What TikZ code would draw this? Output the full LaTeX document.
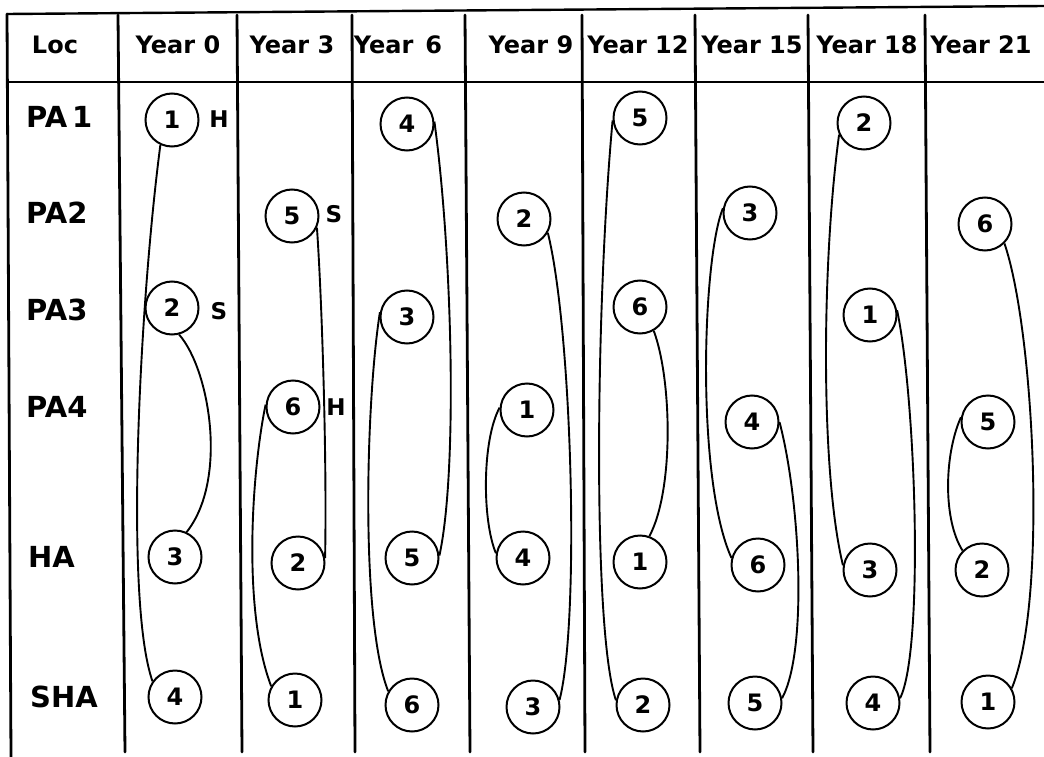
\documentclass[tikz,border=0pt]{standalone}
\usepackage{fontspec}
\setmainfont{DejaVu Sans}
\begin{document}
\begin{tikzpicture}[x=1pt,y=-1pt,
  gridline/.style={line width=2.8pt, line cap=round},
  ruleline/.style={line width=2.4pt},
  ring/.style={circle, draw, line width=2pt, minimum size=53pt, inner sep=0pt, font=\bfseries\fontsize{24}{24}\selectfont},
  link/.style={line width=1.9pt},
  head/.style={font=\bfseries\fontsize{24}{24}\selectfont, inner sep=0pt},
  rowlab/.style={font=\bfseries\fontsize{29}{29}\selectfont, inner sep=0pt, anchor=west},
  tag/.style={font=\bfseries\fontsize{23}{23}\selectfont, inner sep=0pt}]
\useasboundingbox (0,0) rectangle (1044,757);
% frame and grid
\draw[ruleline] (7,14) -- (1044,6);
\draw[ruleline] (7,82) -- (1044,82);
\draw[gridline] (7,14) -- (11,757);
\foreach \a/\b in {118/125, 237/242, 352/355, 465/470, 582/585, 695/700, 808/813, 925/930}
  \draw[gridline] (\a,15) -- (\b,752);
% headers
\node[head] (hLoc) at (55,45) {Loc};
\node[head] (h0) at (178,45) {Year 0};
\node[head] (h3) at (292,45) {Year 3};
\node[head] (h6) at (398,45) {Year\hspace{12pt}6};
\node[head] (h9) at (531,45) {Year 9};
\node[head] (h12) at (638,45) {Year 12};
\node[head] (h15) at (752,45) {Year 15};
\node[head] (h18) at (867,45) {Year 18};
\node[head] (h21) at (981,45) {Year 21};
% row labels
\node[rowlab] (rPA1) at (26,117) {PA\,1};
\node[rowlab] (rPA2) at (26,213) {PA2};
\node[rowlab] (rPA3) at (26,310) {PA3};
\node[rowlab] (rPA4) at (26,407) {PA4};
\node[rowlab] (rHA) at (28,557) {HA};
\node[rowlab] (rSHA) at (30,697) {SHA};
% circles
\node[ring] (Y0n1) at (172,120) {1};
\node[ring] (Y0n2) at (172,308) {2};
\node[ring] (Y0n3) at (175,557) {3};
\node[ring] (Y0n4) at (175,697) {4};
\node[ring] (Y3n5) at (292,216) {5};
\node[ring] (Y3n6) at (293,407) {6};
\node[ring] (Y3n2) at (298,563) {2};
\node[ring] (Y3n1) at (295,700) {1};
\node[ring] (Y6n4) at (407,124) {4};
\node[ring] (Y6n3) at (407,317) {3};
\node[ring] (Y6n5) at (412,558) {5};
\node[ring] (Y6n6) at (412,705) {6};
\node[ring] (Y9n2) at (524,219) {2};
\node[ring] (Y9n1) at (527,410) {1};
\node[ring] (Y9n4) at (523,558) {4};
\node[ring] (Y9n3) at (533,707) {3};
\node[ring] (Y12n5) at (640,118) {5};
\node[ring] (Y12n6) at (640,307) {6};
\node[ring] (Y12n1) at (640,562) {1};
\node[ring] (Y12n2) at (643,705) {2};
\node[ring] (Y15n3) at (750,213) {3};
\node[ring] (Y15n4) at (752,422) {4};
\node[ring] (Y15n6) at (758,565) {6};
\node[ring] (Y15n5) at (755,703) {5};
\node[ring] (Y18n2) at (864,123) {2};
\node[ring] (Y18n1) at (870,315) {1};
\node[ring] (Y18n3) at (870,570) {3};
\node[ring] (Y18n4) at (873,703) {4};
\node[ring] (Y21n6) at (985,224) {6};
\node[ring] (Y21n5) at (988,422) {5};
\node[ring] (Y21n2) at (982,570) {2};
\node[ring] (Y21n1) at (988,702) {1};
% tags
\node[tag] (tH0) at (219,119) {H};
\node[tag] (tS0) at (219,311) {S};
\node[tag] (tS3) at (334,214) {S};
\node[tag] (tH3) at (336,407) {H};
% connectors
\draw[link] (Y0n1.245) .. controls (140,300) and (124,600) .. (Y0n4.145);
\draw[link] (Y0n2.285) .. controls (210,370) and (228,480) .. (Y0n3.65);
\draw[link] (Y3n5.-25) .. controls (322,300) and (327,460) .. (Y3n2.10);
\draw[link] (Y3n6.175) .. controls (252,470) and (242,610) .. (Y3n1.150);
\draw[link] (Y6n4.5) .. controls (452,250) and (458,470) .. (Y6n5.5);
\draw[link] (Y6n3.170) .. controls (366,400) and (360,620) .. (Y6n6.150);
\draw[link] (Y9n2.-30) .. controls (572,330) and (580,620) .. (Y9n3.15);
\draw[link] (Y9n1.175) .. controls (482,440) and (482,520) .. (Y9n4.170);
\draw[link] (Y12n5.185) .. controls (596,300) and (592,630) .. (Y12n2.170);
\draw[link] (Y12n6.-60) .. controls (672,380) and (674,490) .. (Y12n1.70);
\draw[link] (Y15n3.170) .. controls (702,260) and (696,480) .. (Y15n6.165);
\draw[link] (Y15n4.0) .. controls (800,500) and (808,650) .. (Y15n5.10);
\draw[link] (Y18n2.205) .. controls (822,260) and (820,470) .. (Y18n3.170);
\draw[link] (Y18n1.10) .. controls (916,400) and (924,650) .. (Y18n4.10);
\draw[link] (Y21n6.-45) .. controls (1034,330) and (1048,600) .. (Y21n1.30);
\draw[link] (Y21n5.170) .. controls (944,455) and (943,520) .. (Y21n2.135);
\end{tikzpicture}
\end{document}
